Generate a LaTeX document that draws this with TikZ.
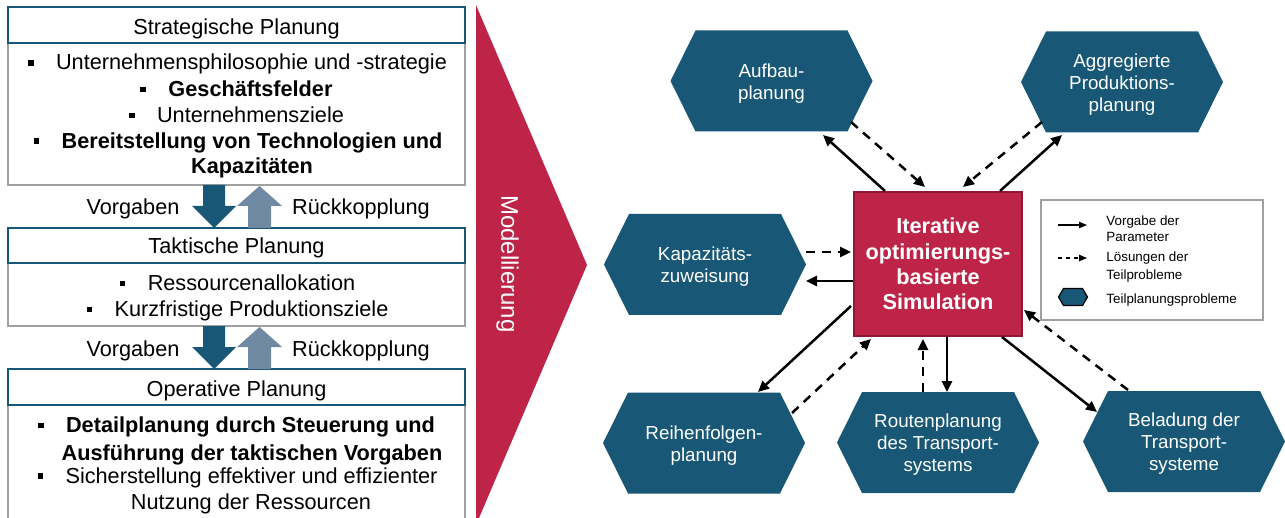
\documentclass[tikz,border=0pt]{standalone}
\usepackage{fontspec}
\setmainfont{Liberation Sans}
\usetikzlibrary{calc,arrows.meta}

\definecolor{petrol}{RGB}{24,88,118}
\definecolor{steel}{RGB}{111,137,162}
\definecolor{crimson}{RGB}{190,36,72}
\definecolor{crimsondark}{RGB}{145,24,52}
\definecolor{framegray}{RGB}{160,160,160}

% square list bullet followed by the tab gap
\newcommand{\mybul}{\rule[2.2pt]{2.8pt}{2.8pt}\hspace{11.2pt}}

\tikzset{
  headbox/.style={draw=petrol, line width=1.1pt, fill=white, minimum width=228.5pt, inner sep=0pt},
  bodybox/.style={draw=framegray, line width=0.9pt, fill=white, minimum width=228.5pt, inner sep=0pt},
  ltext/.style={font=\fontsize{10.85pt}{13pt}\selectfont, inner sep=0pt, anchor=base},
  lbold/.style={ltext, font=\fontsize{10.85pt}{13pt}\selectfont\bfseries},
  hexagon/.style={minimum width=101pt, minimum height=50.5pt, inner sep=0pt,
    path picture={\fill[petrol] (path picture bounding box.west)
      -- ([xshift=12.5pt]path picture bounding box.north west)
      -- ([xshift=-12.5pt]path picture bounding box.north east)
      -- (path picture bounding box.east)
      -- ([xshift=-12.5pt]path picture bounding box.south east)
      -- ([xshift=12.5pt]path picture bounding box.south west) -- cycle;}},
  hextext/.style={text=white, align=center, font=\fontsize{9.4pt}{11pt}\selectfont, inner sep=0pt},
  simbox/.style={fill=crimson, draw=crimsondark, line width=1pt, minimum width=84pt,
    minimum height=72pt, inner sep=0pt, text=white, align=center,
    font=\fontsize{10.85pt}{12.65pt}\selectfont\bfseries},
  vorgabe/.style={line width=1.25pt, -{Triangle[length=5.5pt,width=5pt]}},
  loesung/.style={vorgabe, dash pattern=on 4.5pt off 3.5pt},
  legvorgabe/.style={line width=0.6pt, -{Triangle[length=4pt,width=3.2pt]}},
  legloesung/.style={legvorgabe, dash pattern=on 2pt off 2pt},
  legtext/.style={font=\fontsize{6.7pt}{8pt}\selectfont, inner sep=0pt, anchor=base west},
}

\begin{document}
\begin{tikzpicture}[x=0.5pt,y=-0.5pt]
\path[use as bounding box] (0,0) rectangle (1285,518);

% ---------- planning hierarchy ----------
\node[bodybox, minimum height=71pt] (strat-body) at (236.5,114) {};
\node[headbox, minimum height=18pt] (strat-head) at (236.5,25) {};
\node[bodybox, minimum height=31.5pt] (takt-body) at (236.5,294.5) {};
\node[headbox, minimum height=17.5pt] (takt-head) at (236.5,245.5) {};
\node[bodybox, minimum height=67.5pt] (oper-body) at (236.5,472.5) {};
\node[headbox, minimum height=18pt] (oper-head) at (236.5,387) {};

% block arrows between the levels
\foreach \t/\b in {185/228, 326/369} {
  \fill[petrol] (203,\t) -- (225,\t) -- (225,\b-22) -- (236,\b-22) -- (214,\b)
    -- (192,\b-22) -- (203,\b-22) -- cycle;
  \fill[steel] (248,\b) -- (271,\b) -- (271,\t+21) -- (282,\t+21) -- (259.5,\t+1)
    -- (237,\t+21) -- (248,\t+21) -- cycle;
}
\node[ltext] (vg1) at (133,215) {Vorgaben};
\node[ltext] (rk1) at (361,215) {Rückkopplung};
\node[ltext] (vg2) at (133,357) {Vorgaben};
\node[ltext] (rk2) at (361,357) {Rückkopplung};

\node[ltext] (s0) at (236.5,35) {Strategische Planung};
\node[ltext] (s1) at (237.5,70) {\mybul Unternehmensphilosophie und -strategie};
\node[lbold] (s2) at (236.5,96.7) {\mybul Geschäftsfelder};
\node[ltext] (s3) at (236.5,122.7) {\mybul Unternehmensziele};
\node[lbold] (s4) at (238,148.3) {\mybul Bereitstellung von Technologien und};
\node[lbold] (s5) at (252,174) {Kapazitäten};

\node[ltext] (t0) at (236.5,254) {Taktische Planung};
\node[ltext] (t1) at (237.5,290.7) {\mybul Ressourcenallokation};
\node[ltext] (t2) at (237.5,316.7) {\mybul Kurzfristige Produktionsziele};

\node[ltext] (o0) at (236.5,396.7) {Operative Planung};
\node[lbold] (o1) at (236.5,432.7) {\mybul Detailplanung durch Steuerung und};
\node[lbold] (o2) at (252,460) {Ausführung der taktischen Vorgaben};
\node[ltext] (o3) at (237.5,483.3) {\mybul Sicherstellung effektiver und effizienter};
\node[ltext] (o4) at (251,509.3) {Nutzung der Ressourcen};

% ---------- modelling wedge ----------
\fill[crimson] (476,5) -- (587,265) -- (476,525) -- cycle;
\node[font=\fontsize{12pt}{14pt}\selectfont, text=white, rotate=-90, inner sep=0pt] (model) at (507.5,264) {Modellierung};

% ---------- sub-problems ----------
\node[hexagon] (aufbau) at (771.5,81) {};
\node[hextext] (aufbau-t) at ($(aufbau)+(0,2.5)$) {Aufbau-\\planung};
\node[hexagon] (aggr) at (1122,82) {};
\node[hextext] (aggr-t) at ($(aggr)+(0,2.5)$) {Aggregierte\\Produktions-\\planung};
\node[hexagon] (kap) at (705,264.5) {};
\node[hextext] (kap-t) at ($(kap)+(0,2.5)$) {Kapazitäts-\\zuweisung};
\node[hexagon] (reihen) at (704,443) {};
\node[hextext] (reihen-t) at ($(reihen)+(0,2.5)$) {Reihenfolgen-\\planung};
\node[hexagon] (routen) at (938,442.5) {};
\node[hextext] (routen-t) at ($(routen)+(0,2.5)$) {Routenplanung\\des Transport-\\systems};
\node[hexagon] (belad) at (1184,441.5) {};
\node[hextext] (belad-t) at ($(belad)+(0,2.5)$) {Beladung der\\Transport-\\systeme};

\node[simbox] (sim) at (938,264) {Iterative\\optimierungs-\\basierte\\Simulation};

% ---------- parameter / solution flows ----------
\draw[vorgabe] ($(sim.north)+(-53,0)$) -- ($(aufbau)+(51.5,54)$);
\draw[loesung] ($(aufbau)+(79.5,41)$) -- ($(sim.north)+(-13,-4)$);
\draw[loesung] ($(aggr)+(-80,40)$) -- ($(sim.north)+(25,-4)$);
\draw[vorgabe] ($(sim.north)+(62,0)$) -- ($(aggr)+(-60,53)$);
\draw[loesung] ($(kap)+(101,-12.5)$) -- ($(sim.west)+(-2,-12)$);
\draw[vorgabe] ($(sim.west)+(0,17)$) -- ($(kap)+(101,16.5)$);
\draw[vorgabe] ($(sim.west)+(-2,42)$) -- ($(reihen)+(54,-51)$);
\draw[loesung] ($(reihen)+(88,-30)$) -- ($(sim.south)+(-67,2)$);
\draw[loesung] ($(routen)+(-15,-50.5)$) -- ($(sim.south)+(-15,2)$);
\draw[vorgabe] ($(sim.south)+(9,0)$) -- ($(routen)+(9,-50.5)$);
\draw[vorgabe] ($(sim.south)+(64,0)$) -- ($(belad)+(-87,-29.5)$);
\draw[loesung] ($(belad)+(-56,-51.5)$) -- ($(sim.east)+(1,46)$);

% ---------- legend ----------
\node[draw=framegray, line width=0.6pt, minimum width=111pt, minimum height=60pt, inner sep=0pt] (legend) at (1152,260) {};
\coordinate (lg1a) at (1058,225);
\coordinate (lg1b) at (1087,225);
\coordinate (lg2a) at (1058,258);
\coordinate (lg2b) at (1087,258);
\draw[legvorgabe] (lg1a) -- (lg1b);
\draw[legloesung] (lg2a) -- (lg2b);
\filldraw[fill=petrol, draw=black, line width=0.6pt] (1058.5,297) -- (1063.5,288.5) -- (1082.5,288.5)
  -- (1087.5,297) -- (1082.5,305.5) -- (1063.5,305.5) -- cycle;
\node[legtext] (lt1) at (1106,226) {Vorgabe der};
\node[legtext] (lt2) at (1106,242) {Parameter};
\node[legtext] (lt3) at (1106,262) {Lösungen der};
\node[legtext] (lt4) at (1106,279) {Teilprobleme};
\node[legtext] (lt5) at (1106,304) {Teilplanungsprobleme};
\end{tikzpicture}
\end{document}
